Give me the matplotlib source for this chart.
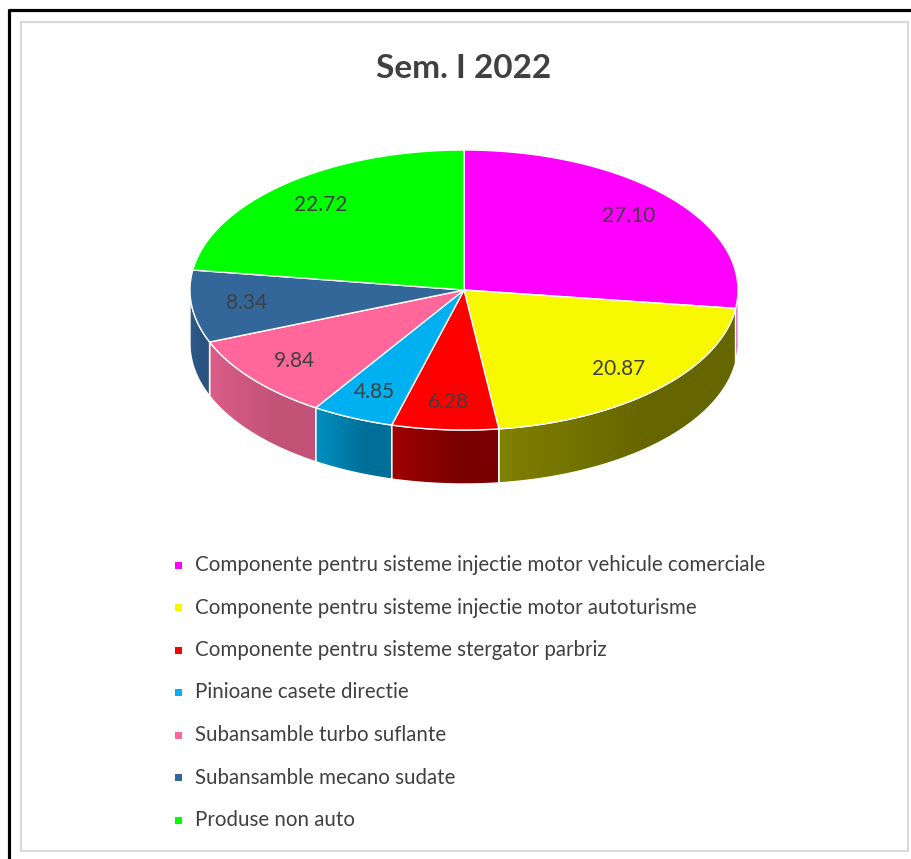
import numpy as np
import matplotlib.pyplot as plt
from matplotlib.patches import Polygon, Rectangle
from matplotlib.colors import to_rgb

plt.rcParams['font.family'] = ['Lato', 'DejaVu Sans']

title = 'Sem. I 2022'
labels = ['Componente pentru sisteme injectie motor vehicule comerciale',
          'Componente pentru sisteme injectie motor autoturisme',
          'Componente pentru sisteme stergator parbriz',
          'Pinioane casete directie',
          'Subansamble turbo suflante',
          'Subansamble mecano sudate',
          'Produse non auto']
values = [27.10, 20.87, 6.28, 4.85, 9.84, 8.34, 22.72]

top_colors = ['#ff00ff', '#f8f800', '#ff0000', '#00b0f0', '#ff6699', '#336699', '#00ff00']
side_left = ['#b000b0', '#808000', '#a00000', '#0090c0', '#d95d88', '#2d5a88', '#00a000']
side_right = ['#a000a0', '#666600', '#7a0000', '#006f99', '#c35277', '#2a5380', '#008800']

W, H = 911, 859
fig = plt.figure(figsize=(W / 100, H / 100), dpi=100)
ax = fig.add_axes([0, 0, 1, 1])

# pie geometry (pixels)
cx, cy = 464, 290
rx, ry = 274, 140
depth = 54


def ell(th):
    th = np.radians(th)
    return cx + rx * np.sin(th), cy - ry * np.cos(th)


frac = np.array(values) / sum(values)
ends = np.cumsum(frac) * 360
starts = ends - frac * 360

# side walls (front half only, 90..270 deg clockwise from top)
for i in range(len(values)):
    a, b = max(starts[i], 90), min(ends[i], 270)
    if b <= a:
        continue
    th = np.linspace(a, b, 100)
    x, y = ell(th)
    pts = np.vstack([np.column_stack([x, y]),
                     np.column_stack([x[::-1], y[::-1] + depth])])
    poly = Polygon(pts, closed=True, fill=False, edgecolor='white', lw=1, zorder=2)
    ax.add_patch(poly)
    x0, x1 = x.min(), x.max()
    n = 200
    t = np.clip(np.linspace(0, 1, n) * 1.6, 0, 1)[None, :, None]
    grad = (1 - t) * np.array(to_rgb(side_left[i])) + t * np.array(to_rgb(side_right[i]))
    im = ax.imshow(grad, extent=(x0, x1, y.max() + depth, y.min()),
                   aspect='auto', zorder=1, interpolation='bilinear')
    im.set_clip_path(poly)

# top face
for i in range(len(values)):
    th = np.linspace(starts[i], ends[i], 200)
    x, y = ell(th)
    pts = np.vstack([[cx, cy], np.column_stack([x, y])])
    ax.add_patch(Polygon(pts, closed=True, facecolor=top_colors[i],
                         edgecolor='white', lw=1, zorder=3))
    mx, my = ell((starts[i] + ends[i]) / 2)
    lx = cx + 0.8 * (mx - cx)
    ly = cy + 0.8 * (my - cy)
    ax.text(lx, ly, f'{values[i]:.2f}', ha='center', va='center',
            fontsize=15, color='#404040', zorder=4)

ax.text(cx, 68, title, ha='center', va='center', fontsize=24,
        fontweight='bold', color='#404040')

# legend
for i, lab in enumerate(labels):
    yy = 565 + i * 42.5
    ax.add_patch(Rectangle((175, yy - 3.5), 7, 7, color=top_colors[i], lw=0))
    ax.text(195, yy, lab, ha='left', va='center', fontsize=14.8, color='#404040')

# frames
ax.plot([9, 9, W], [H, 10, 10], color='black', lw=2.3, solid_capstyle='butt')
ax.add_patch(Rectangle((21, 22), 887, 829, fill=False, edgecolor='#d9d9d9', lw=1.5))

ax.set_xlim(0, W)
ax.set_ylim(H, 0)
ax.axis('off')
fig.savefig('out.png', dpi=100)
